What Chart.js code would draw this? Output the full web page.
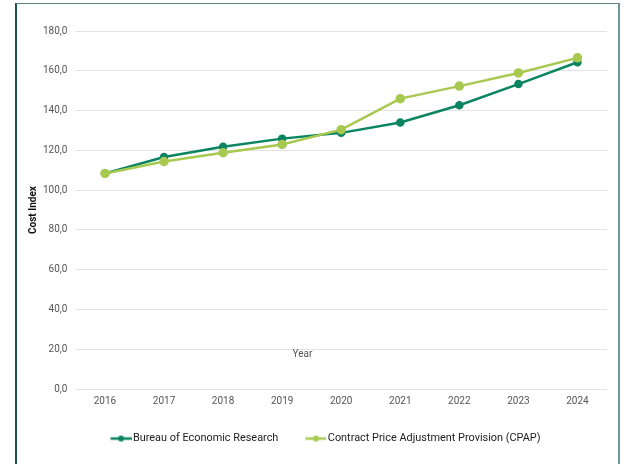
<!DOCTYPE html>
<html>
<head>
<meta charset="utf-8">
<script src="https://cdn.jsdelivr.net/npm/chart.js"></script>
<style>
    html, body { margin: 0; padding: 0; background: #fff; }
    #wrap { position: relative; width: 625px; height: 464px; overflow: hidden; }
    #frame {
        position: absolute; left: 15px; top: 3px; width: 601px; height: 480px;
        border-left: 2px solid #1f4f50; border-top: 1px solid #5b8384; border-right: 2px solid #6e999b;
        box-sizing: content-box;
    }
    canvas { position: absolute; left: 0; top: 0; }
</style>
</head>
<body>
<div id="wrap">
    <div id="frame"></div>
    <canvas id="cost-chart" width="625" height="464"></canvas>
</div>
<script>
// Chart data
const years = ['2016', '2017', '2018', '2019', '2020', '2021', '2022', '2023', '2024'];
const berValues = [108.4, 116.7, 121.8, 125.9, 128.8, 134.0, 142.7, 153.3, 164.3];
const cpapValues = [108.4, 114.4, 118.8, 123.0, 130.4, 146.0, 152.3, 158.9, 166.5];
const yTicks = [0, 20, 40, 60, 80, 100, 120, 140, 160, 180];

const darkGreen = '#0b8461';
const lightGreen = '#a7c94f';
const fontFamily = 'Roboto, "Liberation Sans", sans-serif';

// legend marker: short line with a dot, shifted right inside a wider image
// so it hugs the label text the way the original legend does
function legendMarker(color) {
    const c = document.createElement('canvas');
    c.width = 32;
    c.height = 8;
    const g = c.getContext('2d');
    g.strokeStyle = color;
    g.lineWidth = 2.5;
    g.beginPath();
    g.moveTo(11, 4);
    g.lineTo(32, 4);
    g.stroke();
    g.fillStyle = color;
    g.beginPath();
    g.arc(21.5, 4, 3, 0, Math.PI * 2);
    g.fill();
    return c;
}

// "Year" label sits inside the plot, just above the x ticks
const yearLabel = {
    id: 'yearLabel',
    afterDraw(chart) {
        const { ctx, chartArea } = chart;
        ctx.save();
        ctx.font = '10px ' + fontFamily;
        ctx.fillStyle = '#555';
        ctx.textAlign = 'center';
        ctx.textBaseline = 'middle';
        ctx.fillText('Year', chartArea.left + 227, chartArea.bottom - 35);
        ctx.restore();
    }
};

// nudge the legend a little to the right, like the original
const legendShift = {
    id: 'legendShift',
    afterLayout(chart) {
        if (chart.legend) {
            chart.legend.left += 5;
            chart.legend.right += 5;
        }
    }
};

const ctx = document.getElementById('cost-chart').getContext('2d');
const costChart = new Chart(ctx, {
    type: 'line',
    data: {
        labels: years,
        datasets: [{
            label: 'Bureau of Economic Research',
            data: berValues,
            borderColor: darkGreen,
            backgroundColor: darkGreen,
            borderWidth: 2.5,
            pointRadius: 3,
            pointHoverRadius: 4,
            pointStyle: 'circle',
            tension: 0,
            order: 2
        }, {
            label: 'Contract Price Adjustment Provision (CPAP)',
            data: cpapValues,
            borderColor: lightGreen,
            backgroundColor: lightGreen,
            borderWidth: 2.5,
            pointRadius: 3.5,
            pointHoverRadius: 4,
            pointStyle: 'circle',
            tension: 0,
            order: 1
        }]
    },
    options: {
        responsive: false,
        animation: false,
        layout: {
            padding: { left: 27, right: 18, top: 31, bottom: 10 }
        },
        scales: {
            x: {
                offset: true,
                grid: { display: false, drawTicks: false },
                border: { display: false },
                ticks: {
                    color: '#555',
                    font: { family: fontFamily, size: 10 },
                    padding: 6
                }
            },
            y: {
                min: 0,
                max: 180,
                afterBuildTicks: function(axis) {
                    axis.ticks = yTicks.map(v => ({ value: v }));
                },
                grid: { color: '#e3e3e3', lineWidth: 1, drawTicks: false },
                border: { display: false },
                ticks: {
                    color: '#555',
                    font: { family: fontFamily, size: 10 },
                    padding: 8,
                    callback: function(value) {
                        return value.toFixed(1).replace('.', ',');
                    }
                },
                title: {
                    display: true,
                    text: 'Cost Index',
                    color: '#111',
                    font: { family: fontFamily, size: 10, weight: 'bold' },
                    padding: { top: 0, bottom: -4 }
                }
            }
        },
        plugins: {
            legend: {
                position: 'bottom',
                labels: {
                    usePointStyle: true,
                    pointStyleWidth: 24,
                    color: '#222',
                    font: { family: fontFamily, size: 10.9 },
                    padding: 20,
                    sort: function(a, b) { return a.datasetIndex - b.datasetIndex; },
                    generateLabels: function(chart) {
                        return chart.data.datasets.map((ds, i) => ({
                            text: ds.label,
                            fillStyle: ds.borderColor,
                            strokeStyle: ds.borderColor,
                            fontColor: '#222',
                            pointStyle: legendMarker(ds.borderColor),
                            datasetIndex: i,
                            hidden: false,
                            lineWidth: 0
                        }));
                    }
                }
            },
            tooltip: { enabled: true }
        }
    },
    plugins: [yearLabel, legendShift]
});
</script>
</body>
</html>
